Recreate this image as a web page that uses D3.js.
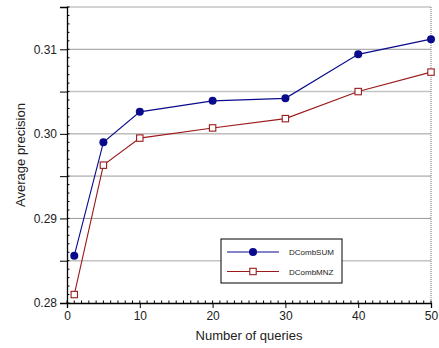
<!DOCTYPE html>
<html>
<head>
<meta charset="utf-8">
<script src="https://cdn.jsdelivr.net/npm/d3@7"></script>
<style>
html,body{margin:0;padding:0;background:#fff;}
svg{display:block;font-family:"Liberation Sans",Arial,sans-serif;}
</style>
</head>
<body>
<svg id="chart" width="439" height="348"></svg>
<script>
const queries = [1, 5, 10, 20, 30, 40, 50];
const dcombSUM = [0.2856, 0.2990, 0.3026, 0.3039, 0.3042, 0.3094, 0.3112];
const dcombMNZ = [0.2810, 0.2963, 0.2995, 0.3007, 0.3018, 0.3050, 0.3073];
const seriesNames = ["DCombSUM", "DCombMNZ"];
const xTicks = [0, 10, 20, 30, 40, 50];
const yTicks = [0.28, 0.29, 0.30, 0.31];
const yGrid = [0.285, 0.29, 0.295, 0.30, 0.305, 0.31, 0.315];

const svg = d3.select("#chart");
const L = 67, R = 431, T = 7, B = 303;
const x = d3.scaleLinear().domain([0, 50]).range([L, R]);
const y = d3.scaleLinear().domain([0.28, 0.315]).range([B, T]);

// gridlines
yGrid.forEach(v => {
  const major = Math.abs(v * 100 - Math.round(v * 100)) < 1e-6;
  svg.append("line")
    .attr("x1", L).attr("x2", R).attr("y1", y(v)).attr("y2", y(v))
    .attr("stroke", major ? "#9a9a9a" : "#c4c4c4")
    .attr("stroke-width", major ? 1 : 1.6);
});
// right dotted border
svg.append("line").attr("x1", R).attr("x2", R).attr("y1", T).attr("y2", B)
  .attr("stroke", "#777").attr("stroke-dasharray", "1,1");

// minor ticks
const yMinor = d3.range(0, 36).map(i => 0.28 + i * 0.001);
svg.append("g").selectAll("line").data(yMinor).join("line")
  .attr("x1", L).attr("x2", L + 2.5).attr("y1", d => y(d)).attr("y2", d => y(d))
  .attr("stroke", "#000").attr("stroke-width", 1);
const xMinor = d3.range(0, 51);
svg.append("g").selectAll("line").data(xMinor).join("line")
  .attr("x1", d => x(d)).attr("x2", d => x(d)).attr("y1", B).attr("y2", B - 2.5)
  .attr("stroke", "#000").attr("stroke-width", 1);

// y axis
const yAxis = d3.axisLeft(y).tickValues(yGrid.concat([0.28])).tickSize(7).tickPadding(3)
  .tickFormat(d => yTicks.some(t => Math.abs(t - d) < 1e-9) ? d3.format(".2f")(d) : "");
const gy = svg.append("g").attr("transform", `translate(${L},0)`).call(yAxis);
gy.select(".domain").attr("stroke", "#000").attr("stroke-width", 1.3);
gy.selectAll("text").attr("font-size", 12).attr("fill", "#222")
  .attr("font-family", '"Liberation Sans",Arial,sans-serif');

// x axis
const xAxis = d3.axisBottom(x).tickValues(xTicks).tickSize(5).tickPadding(3);
const gx = svg.append("g").attr("transform", `translate(0,${B})`).call(xAxis);
gx.select(".domain").attr("stroke", "#000").attr("stroke-width", 1.3);
gx.selectAll("text").attr("font-size", 12).attr("fill", "#222")
  .attr("font-family", '"Liberation Sans",Arial,sans-serif');

// titles
svg.append("text").attr("x", (L + R) / 2).attr("y", 340).attr("text-anchor", "middle")
  .attr("font-size", 13).attr("fill", "#222").text("Number of queries");
svg.append("text").attr("transform", `translate(25,${(T + B) / 2}) rotate(-90)`)
  .attr("text-anchor", "middle").attr("font-size", 13).attr("fill", "#222").text("Average precision");

const colors = ["#0a0a8c", "#9a1a1a"];
const line = d3.line().x((d, i) => x(queries[i])).y(d => y(d));

// series
[dcombSUM, dcombMNZ].forEach((vals, s) => {
  svg.append("path").datum(vals).attr("d", line).attr("fill", "none")
    .attr("stroke", colors[s]).attr("stroke-width", 1.1);
});
svg.append("g").selectAll("circle").data(dcombSUM).join("circle")
  .attr("cx", (d, i) => x(queries[i])).attr("cy", d => y(d)).attr("r", 4)
  .attr("fill", colors[0]);
svg.append("g").selectAll("rect").data(dcombMNZ).join("rect")
  .attr("x", (d, i) => x(queries[i]) - 3.2).attr("y", d => y(d) - 3.2)
  .attr("width", 6.4).attr("height", 6.4)
  .attr("fill", "#fff").attr("stroke", colors[1]).attr("stroke-width", 1.1);

// legend
const lg = svg.append("g");
lg.append("rect").attr("x", 221).attr("y", 239).attr("width", 121).attr("height", 44)
  .attr("fill", "#fff").attr("stroke", "#000").attr("stroke-width", 1);
const rows = [252, 271.5];
seriesNames.forEach((n, s) => {
  lg.append("line").attr("x1", 227).attr("x2", 279).attr("y1", rows[s]).attr("y2", rows[s])
    .attr("stroke", colors[s]).attr("stroke-width", 1.1);
  if (s === 0) {
    lg.append("circle").attr("cx", 253).attr("cy", rows[s]).attr("r", 4).attr("fill", colors[0]);
  } else {
    lg.append("rect").attr("x", 253 - 3.2).attr("y", rows[s] - 3.2).attr("width", 6.4).attr("height", 6.4)
      .attr("fill", "#fff").attr("stroke", colors[1]).attr("stroke-width", 1.1);
  }
  lg.append("text").attr("x", 289).attr("y", rows[s] + 3).attr("font-size", 8)
    .attr("fill", "#222").text(n);
});
</script>
</body>
</html>
